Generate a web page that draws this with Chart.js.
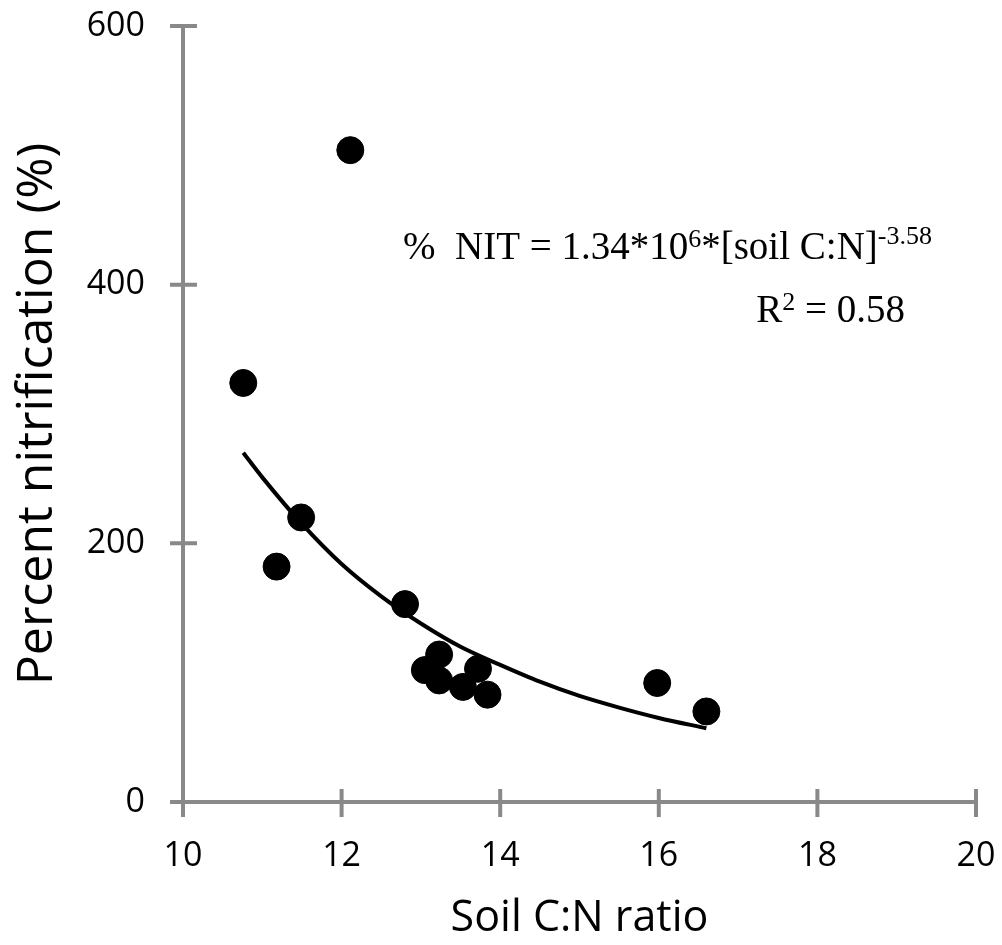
<!DOCTYPE html>
<html>
<head>
<meta charset="utf-8">
<script src="https://cdn.jsdelivr.net/npm/chart.js@4/dist/chart.umd.min.js"></script>
<style>
html,body{margin:0;padding:0;background:#fff;}
#wrap{width:1002px;height:945px;position:relative;}
</style>
</head>
<body>
<div id="wrap"><canvas id="c" width="1002" height="945"></canvas></div>
<script>
// Observed data (soil C:N ratio vs percent nitrification)
const soilCN = [10.76, 12.11, 11.18, 11.49, 12.80, 13.05, 13.23, 13.23, 13.53, 13.72, 13.84, 15.98, 16.60];
const pctNit = [324, 504, 182, 220, 153, 102, 114, 94, 89, 103, 83, 92, 70];
// Trend curve
const fitX = [10.76, 11.0, 11.5, 12.0, 12.5, 13.0, 13.5, 14.0, 14.5, 15.0, 15.5, 16.0, 16.6];
const fitY = [270, 251, 215, 184, 159, 138, 120, 106, 93, 82, 73, 65, 57];
const xTicks = [10, 12, 14, 16, 18, 20];
const yTicks = [0, 200, 400, 600];
const xTitle = 'Soil C:N ratio';
const yTitle = 'Percent nitrification (%)';

const AXIS = '#898989';
const sansFont = "'Open Sans', 'DejaVu Sans', sans-serif";

const axisPlugin = {
  id: 'axisTicks',
  afterDraw(chart) {
    const ctx = chart.ctx, xs = chart.scales.x, ys = chart.scales.y;
    const x0 = xs.getPixelForValue(10), y0 = ys.getPixelForValue(0);
    ctx.save();
    ctx.strokeStyle = AXIS;
    ctx.lineWidth = 4;
    ctx.lineCap = 'butt';
    ctx.beginPath();
    ctx.moveTo(x0, ys.getPixelForValue(600)); ctx.lineTo(x0, y0);
    ctx.moveTo(x0, y0); ctx.lineTo(xs.getPixelForValue(20), y0);
    yTicks.forEach(v => { const p = ys.getPixelForValue(v); ctx.moveTo(x0 - 13, p); ctx.lineTo(x0 + 14, p); });
    xTicks.forEach(v => { const p = xs.getPixelForValue(v); ctx.moveTo(p, y0 - 13); ctx.lineTo(p, y0 + 15); });
    ctx.stroke();
    // equation annotation
    ctx.fillStyle = '#000';
    ctx.textBaseline = 'alphabetic';
    ctx.textAlign = 'left';
    const big = "39px 'Liberation Serif', 'Times New Roman', serif";
    const small = "26px 'Liberation Serif', 'Times New Roman', serif";
    let x = 403, y = 259;
    const parts = [['%  NIT = 1.34*10', big, 0], ['6', small, -12], ['*[soil C:N]', big, 0], ['-3.58', small, -15]];
    parts.forEach(([t, f, dy]) => { ctx.font = f; ctx.fillText(t, x, y + dy); x += ctx.measureText(t).width; });
    // R^2
    const rparts = [['R', big, 0], ['2', small, -12], [' = 0.58', big, 0]];
    let w = 0;
    rparts.forEach(([t, f]) => { ctx.font = f; w += ctx.measureText(t).width; });
    x = 905 - w; y = 322;
    rparts.forEach(([t, f, dy]) => { ctx.font = f; ctx.fillText(t, x, y + dy); x += ctx.measureText(t).width; });
    ctx.restore();
  }
};

new Chart(document.getElementById('c'), {
  type: 'scatter',
  data: {
    datasets: [
      {
        label: 'Observed',
        data: soilCN.map((v, i) => ({x: v, y: pctNit[i]})),
        backgroundColor: '#000', borderColor: '#000',
        pointRadius: 13.5, pointHoverRadius: 13.5, order: 1
      },
      {
        label: 'Power fit',
        type: 'line',
        data: fitX.map((v, i) => ({x: v, y: fitY[i]})),
        borderColor: '#000', borderWidth: 4, pointRadius: 0,
        tension: 0.4, cubicInterpolationMode: 'monotone', fill: false, order: 2
      }
    ]
  },
  options: {
    responsive: false,
    animation: false,
    events: [],
    layout: { padding: { left: 0, right: 26, top: 26, bottom: 0 } },
    plugins: { legend: { display: false }, tooltip: { enabled: false } },
    scales: {
      x: {
        type: 'linear', min: 10, max: 20,
        afterBuildTicks: s => { s.ticks = xTicks.map(v => ({value: v})); },
        afterFit: s => { s.height = 143; s.paddingLeft = 0; s.paddingRight = 0; },
        grid: { display: false, drawTicks: false },
        border: { display: false },
        ticks: { padding: 34, color: '#000', font: { family: sansFont, size: 34 } },
        title: { display: true, text: xTitle, color: '#000', padding: { top: 10, bottom: 0 }, font: { family: sansFont, size: 43 } }
      },
      y: {
        type: 'linear', min: 0, max: 600,
        afterBuildTicks: s => { s.ticks = yTicks.map(v => ({value: v})); },
        afterFit: s => { s.width = 183; s.paddingTop = 0; s.paddingBottom = 0; },
        grid: { display: false, drawTicks: false },
        border: { display: false },
        ticks: { padding: 38, color: '#000', font: { family: sansFont, size: 34 } },
        title: { display: true, text: yTitle, color: '#000', padding: { top: 8, bottom: 0 }, font: { family: sansFont, size: 50 } }
      }
    }
  },
  plugins: [axisPlugin]
});
</script>
</body>
</html>
